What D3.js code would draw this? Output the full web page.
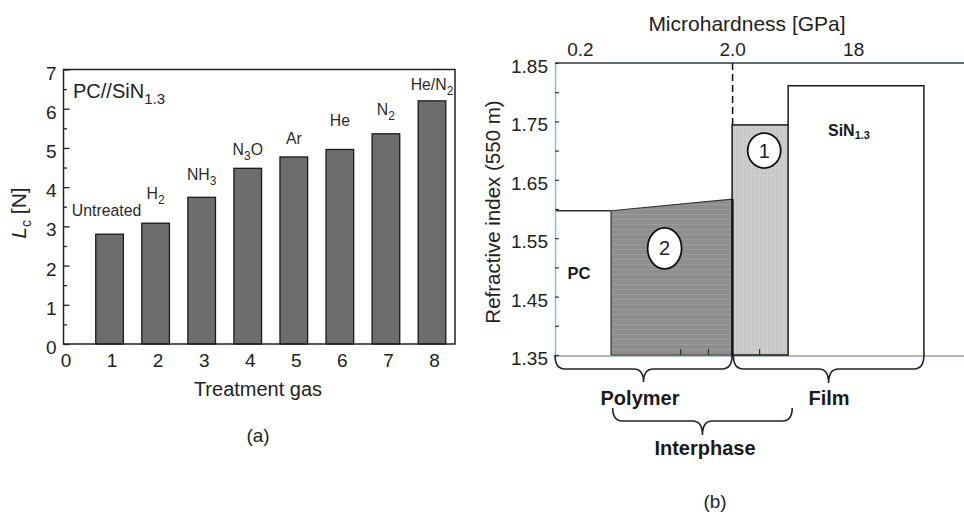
<!DOCTYPE html>
<html><head><meta charset="utf-8">
<script src="https://cdn.jsdelivr.net/npm/d3@7"></script>
<style>
html,body{margin:0;padding:0;background:#fff;}
svg{display:block;font-family:"Liberation Sans",Arial,Helvetica,sans-serif;}
</style></head>
<body>
<svg id="c" width="964" height="514"></svg>
<script>
// ---------- Data: panel (a) ----------
const treatment = [1, 2, 3, 4, 5, 6, 7, 8];
const lcValues = [2.8, 3.08, 3.74, 4.48, 4.77, 4.96, 5.36, 6.2];
// gas labels: even parts normal text, odd parts subscript
const gasLabels = [["Untreated"], ["H", "2"], ["NH", "3"], ["N", "3", "O"], ["Ar"], ["He"], ["N", "2"], ["He/N", "2"]];
const yTicksA = [0, 1, 2, 3, 4, 5, 6, 7];
const xTicksA = [0, 1, 2, 3, 4, 5, 6, 7, 8];

// ---------- Data: panel (b) ----------
const yTicksB = [1.35, 1.45, 1.55, 1.65, 1.75, 1.85];
const hardnessLabels = ["0.2", "2.0", "18"];
const hardnessPos = [6.1, 43.3, 72.9];       // schematic depth units
const pcIndex = 1.597;
const interphaseIndex = [1.597, 1.617];        // region 2 left / right
const region1Index = 1.744;
const sinIndex = 1.811;
const bounds = { pcEnd: 13.7, interface: 43.3, region1End: 57.0, sinEnd: 90.2 };
const bottomMinor = [30.6, 37.4, 49.9];

// ---------- Layout (not data) ----------
const labelDy = [18, 24, 17, 13, 13, 23, 19, 11];

const svg = d3.select("#c");
const ink = "#222";

function rich(sel, parts, subSize, shift) {
  parts.forEach((p, i) => {
    const t = sel.append("tspan").text(p);
    if (i % 2 === 1) t.attr("font-size", subSize).attr("dy", shift);
    else if (i > 0) t.attr("dy", -shift);
  });
}

// ================= Panel (a) =================
const xA = d3.scaleLinear().domain([0, 8.5]).range([63.5, 455]);
const yA = d3.scaleLinear().domain([0, 7]).range([344, 69.5]);
const gA = svg.append("g");

gA.selectAll("rect.bar").data(lcValues).join("rect")
  .attr("class", "bar")
  .attr("x", (d, i) => xA(treatment[i] - 0.3))
  .attr("width", xA(0.6) - xA(0))
  .attr("y", d => yA(d))
  .attr("height", d => yA(0) - yA(d))
  .attr("fill", "#6d6d6d").attr("stroke", "#1a1a1a").attr("stroke-width", 1.3);

// frame
gA.append("rect").attr("x", xA(0)).attr("y", yA(7)).attr("width", xA(8.5) - xA(0)).attr("height", yA(0) - yA(7))
  .attr("fill", "none").attr("stroke", ink).attr("stroke-width", 1.5);

// y axis major + minor
const axYA = gA.append("g").attr("transform", `translate(${xA(0)},0)`)
  .call(d3.axisLeft(yA).tickValues(yTicksA).tickFormat(d3.format("d")).tickSizeInner(-6).tickSizeOuter(0).tickPadding(7));
axYA.select(".domain").remove();
axYA.selectAll("line").attr("stroke", ink).attr("stroke-width", 1.3);
axYA.selectAll("text").attr("font-size", 19).attr("fill", "#222").attr("font-family", null).attr("dy", "0.5em");
const axYAm = gA.append("g").attr("transform", `translate(${xA(0)},0)`)
  .call(d3.axisLeft(yA).tickValues(d3.range(0.5, 7, 1)).tickFormat("").tickSizeInner(-3.5).tickSizeOuter(0));
axYAm.select(".domain").remove();
axYAm.selectAll("line").attr("stroke", ink).attr("stroke-width", 1.3);

// x axis
const axXA = gA.append("g").attr("transform", `translate(0,${yA(0)})`)
  .call(d3.axisBottom(xA).tickValues(xTicksA).tickFormat(d3.format("d")).tickSize(0).tickPadding(10));
axXA.select(".domain").remove();
axXA.selectAll("text").attr("font-size", 19).attr("fill", "#222").attr("font-family", null).attr("dx", 2);

// bar labels
gA.selectAll("text.gl").data(gasLabels).join("text")
  .attr("class", "gl")
  .attr("x", (d, i) => xA(treatment[i]) + (i === 0 ? -3 : 0))
  .attr("y", (d, i) => yA(lcValues[i]) - labelDy[i])
  .attr("text-anchor", "middle").attr("font-size", 15.8).attr("fill", "#2a2a2a")
  .each(function (d) { rich(d3.select(this), d, 12, 5); });

// inset title
const tA = gA.append("text").attr("x", 73).attr("y", 98).attr("font-size", 20).attr("fill", "#222");
rich(tA, ["PC//SiN", "1.3"], 15, 6);

// axis titles
const yl = gA.append("text").attr("transform", "translate(26,213) rotate(-90)")
  .attr("text-anchor", "middle").attr("font-size", 21).attr("fill", "#222");
yl.append("tspan").attr("font-style", "italic").text("L");
yl.append("tspan").attr("font-size", 14).attr("dy", 5).text("c");
yl.append("tspan").attr("dy", -5).text(" [N]");

gA.append("text").attr("x", 258).attr("y", 396).attr("text-anchor", "middle")
  .attr("font-size", 20).attr("fill", "#222").text("Treatment gas");
gA.append("text").attr("x", 258).attr("y", 442).attr("text-anchor", "middle")
  .attr("font-size", 19).attr("fill", "#222").text("(a)");

// ================= Panel (b) =================
const xB = d3.scaleLinear().domain([0, 100]).range([555, 964]);
const yB = d3.scaleLinear().domain([1.35, 1.85]).range([355, 63]);
const gB = svg.append("g");

const defs = svg.append("defs");
const p2 = defs.append("pattern").attr("id", "pat2").attr("patternUnits", "userSpaceOnUse").attr("width", 5).attr("height", 5);
p2.append("rect").attr("width", 5).attr("height", 5).attr("fill", "#8e8e8e");
p2.append("rect").attr("y", 4).attr("width", 5).attr("height", 1).attr("fill", "#9b9b9b");
const p1 = defs.append("pattern").attr("id", "pat1").attr("patternUnits", "userSpaceOnUse").attr("width", 4).attr("height", 4);
p1.append("rect").attr("width", 4).attr("height", 4).attr("fill", "#c6c6c6");
p1.append("rect").attr("x", 3).attr("width", 1).attr("height", 4).attr("fill", "#d0d0d0");
p1.append("rect").attr("y", 3).attr("width", 4).attr("height", 1).attr("fill", "#cecece");

// top frame line, bottom line
gB.append("line").attr("x1", xB(0)).attr("x2", xB(100)).attr("y1", yB(1.85)).attr("y2", yB(1.85))
  .attr("stroke", "#5d6c78").attr("stroke-width", 2);
gB.append("line").attr("x1", xB(0)).attr("x2", xB(100)).attr("y1", yB(1.35) + 1).attr("y2", yB(1.35) + 1)
  .attr("stroke", "#8fa3b1").attr("stroke-width", 1.3);

// region 2 (interphase, polymer side)
const poly2 = [[bounds.pcEnd, interphaseIndex[0]], [bounds.interface, interphaseIndex[1]], [bounds.interface, 1.35], [bounds.pcEnd, 1.35]];
gB.append("path").attr("d", "M" + poly2.map(p => [xB(p[0]), yB(p[1])].join(",")).join("L") + "Z")
  .attr("fill", "url(#pat2)").attr("stroke", "#333").attr("stroke-width", 1.2);

// region 1
gB.append("rect").attr("x", xB(bounds.interface)).attr("y", yB(region1Index))
  .attr("width", xB(bounds.region1End) - xB(bounds.interface)).attr("height", yB(1.35) - yB(region1Index))
  .attr("fill", "url(#pat1)").attr("stroke", "#1a1a1a").attr("stroke-width", 1.5);

// SiN box
gB.append("path")
  .attr("d", `M${xB(bounds.region1End)},${yB(region1Index)}V${yB(sinIndex)}H${xB(bounds.sinEnd)}V${yB(1.35)}`)
  .attr("fill", "none").attr("stroke", "#1a1a1a").attr("stroke-width", 1.5);

// PC line
gB.append("line").attr("x1", xB(0)).attr("x2", xB(bounds.pcEnd)).attr("y1", yB(pcIndex)).attr("y2", yB(pcIndex))
  .attr("stroke", "#333").attr("stroke-width", 1.3);

// interface line (solid) and dashed extension
gB.append("line").attr("x1", xB(bounds.interface) + 0.5).attr("x2", xB(bounds.interface) + 0.5)
  .attr("y1", yB(interphaseIndex[1])).attr("y2", yB(1.35) + 2)
  .attr("stroke", "#111").attr("stroke-width", 2);
gB.append("line").attr("x1", xB(bounds.interface) + 0.5).attr("x2", xB(bounds.interface) + 0.5)
  .attr("y1", yB(1.85)).attr("y2", yB(region1Index))
  .attr("stroke", "#111").attr("stroke-width", 1.5).attr("stroke-dasharray", "7,4");

// bottom minor ticks
const axBm = gB.append("g").attr("transform", `translate(0,${yB(1.35)})`)
  .call(d3.axisBottom(xB).tickValues(bottomMinor).tickFormat("").tickSizeInner(-6).tickSizeOuter(0));
axBm.select(".domain").remove();
axBm.selectAll("line").attr("stroke", "#333").attr("stroke-width", 1.2);

// left axis
const axYB = gB.append("g").attr("transform", `translate(${xB(0)},0)`)
  .call(d3.axisLeft(yB).tickValues(yTicksB).tickFormat(d3.format(".2f")).tickSizeInner(-4).tickSizeOuter(0).tickPadding(7));
axYB.select(".domain").attr("stroke", "#86bde2").attr("stroke-width", 1.5);
axYB.selectAll(".tick line").attr("stroke", "#333").attr("stroke-width", 1.2);
axYB.selectAll("text").attr("font-size", 19).attr("fill", "#222").attr("font-family", null).attr("dy", "0.5em");
const axYBm = gB.append("g").attr("transform", `translate(${xB(0)},0)`)
  .call(d3.axisLeft(yB).tickValues(d3.range(1.40, 1.85, 0.1)).tickFormat("").tickSizeInner(-4).tickSizeOuter(0));
axYBm.select(".domain").remove();
axYBm.selectAll("line").attr("stroke", "#333").attr("stroke-width", 1.2);

// top axis (microhardness)
const axTop = gB.append("g").attr("transform", `translate(0,${yB(1.85)})`)
  .call(d3.axisTop(xB).tickValues(hardnessPos).tickFormat((d, i) => hardnessLabels[i]).tickSize(0).tickPadding(7));
axTop.select(".domain").remove();
axTop.selectAll("text").attr("font-size", 19).attr("fill", "#222").attr("font-family", null);

gB.append("text").attr("x", 747).attr("y", 31).attr("text-anchor", "middle")
  .attr("font-size", 21).attr("fill", "#222").text("Microhardness [GPa]");
gB.append("text").attr("transform", "translate(500,212) rotate(-90)").attr("text-anchor", "middle")
  .attr("font-size", 20.5).attr("fill", "#222").text("Refractive index (550 m)");

// region labels
gB.append("text").attr("x", 579).attr("y", 279).attr("text-anchor", "middle")
  .attr("font-size", 16.5).attr("font-weight", "bold").attr("fill", "#1a1a1a").text("PC");
const sinT = gB.append("text").attr("x", 828).attr("y", 136).attr("font-size", 16)
  .attr("font-weight", "bold").attr("fill", "#1a1a1a");
rich(sinT, ["SiN", "1.3"], 11, 3);

// numbered ellipses
const circles = [
  { label: "1", x: (bounds.interface + bounds.region1End) / 2 + 1, y: 1.70, rx: 16.5, ry: 17.5 },
  { label: "2", x: 26.8, y: 1.5325, rx: 17, ry: 20.5 }
];
circles.forEach(c => {
  gB.append("ellipse").attr("cx", xB(c.x)).attr("cy", yB(c.y)).attr("rx", c.rx).attr("ry", c.ry)
    .attr("fill", "#fff").attr("stroke", "#111").attr("stroke-width", 1.8);
  gB.append("text").attr("x", xB(c.x)).attr("y", yB(c.y) + 7).attr("text-anchor", "middle")
    .attr("font-size", 20).attr("fill", "#222").text(c.label);
});

// braces
function brace(x1, x2, y0, y1, y2) {
  const m = (x1 + x2) / 2, r = 10;
  return `M${x1},${y0}Q${x1},${y1} ${x1 + r},${y1}L${m - r},${y1}Q${m},${y1} ${m},${y2}` +
    `Q${m},${y1} ${m + r},${y1}L${x2 - r},${y1}Q${x2},${y1} ${x2},${y0}`;
}
const braces = [
  { a: 0, b: bounds.interface, y0: 355, y1: 369, y2: 382 },
  { a: bounds.interface + 0.3, b: bounds.sinEnd, y0: 355, y1: 369, y2: 383 },
  { a: 14.1, b: 58.0, y0: 408, y1: 421, y2: 435 }
];
braces.forEach(b => {
  gB.append("path").attr("d", brace(xB(b.a), xB(b.b), b.y0, b.y1, b.y2))
    .attr("fill", "none").attr("stroke", "#222").attr("stroke-width", 1.6);
});

gB.append("text").attr("x", 640).attr("y", 405).attr("text-anchor", "middle")
  .attr("font-size", 20).attr("font-weight", "bold").attr("fill", "#1a1a1a").text("Polymer");
gB.append("text").attr("x", 829).attr("y", 405).attr("text-anchor", "middle")
  .attr("font-size", 20).attr("font-weight", "bold").attr("fill", "#1a1a1a").text("Film");
gB.append("text").attr("x", 705).attr("y", 455).attr("text-anchor", "middle")
  .attr("font-size", 20).attr("font-weight", "bold").attr("fill", "#1a1a1a").text("Interphase");
gB.append("text").attr("x", 715).attr("y", 508).attr("text-anchor", "middle")
  .attr("font-size", 19).attr("fill", "#222").text("(b)");
</script>
</body></html>
